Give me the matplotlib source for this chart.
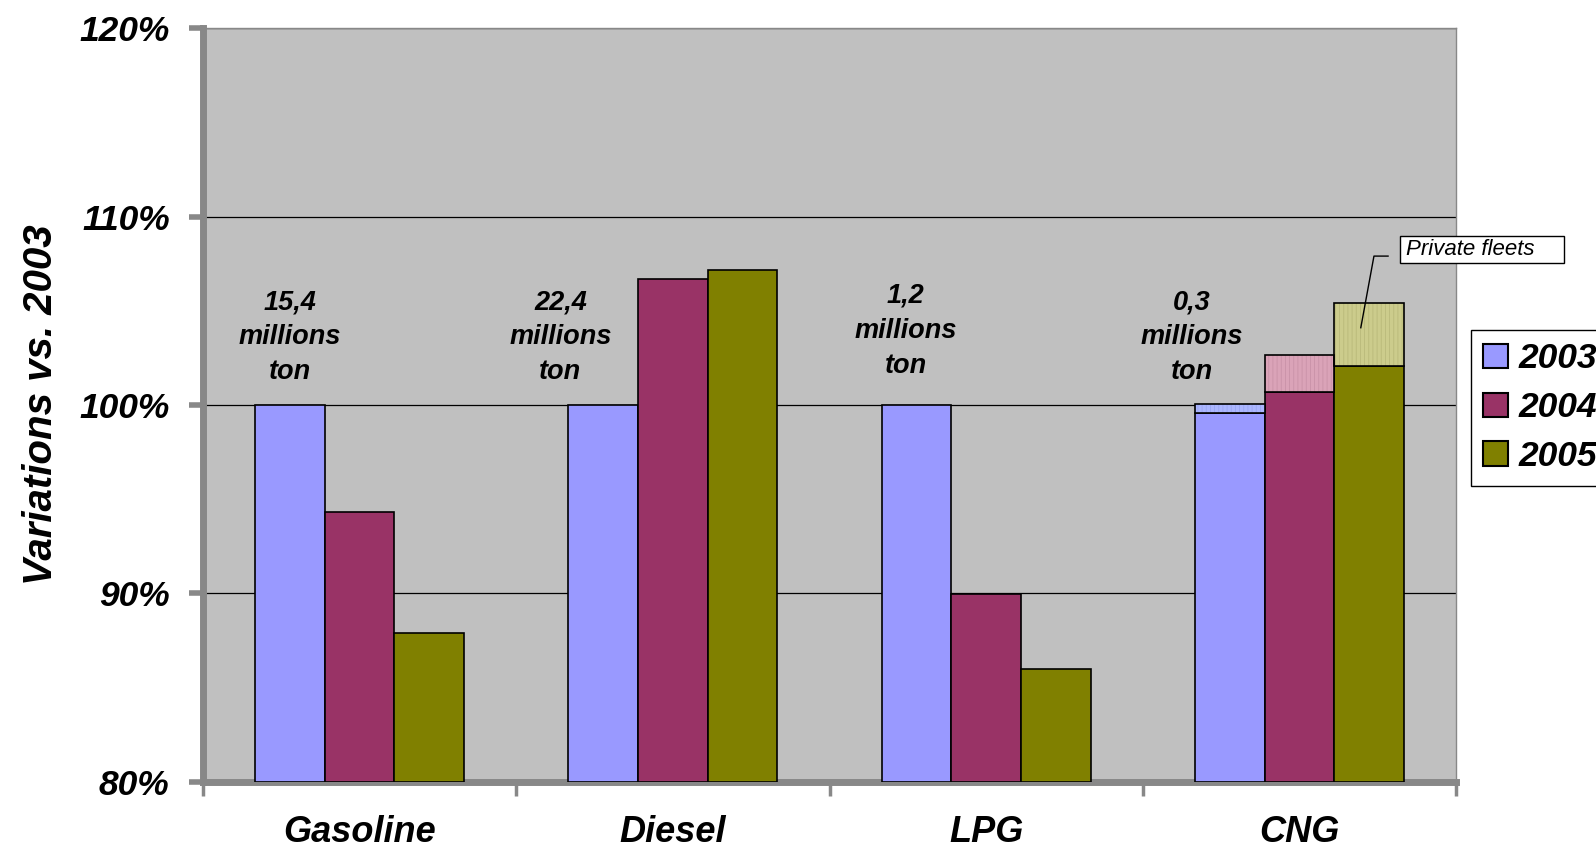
import numpy as np
import matplotlib
matplotlib.use('Agg')
import matplotlib.pyplot as plt
from matplotlib.patches import Rectangle, Patch
from matplotlib.lines import Line2D

# data (percent of 2003 level)
categories = ['Gasoline', 'Diesel', 'LPG', 'CNG']
years = ['2003', '2004', '2005']
v2003 = [100.0, 100.0, 100.0, 99.55]
v2004 = [94.3, 106.7, 89.95, 100.7]
v2005 = [87.9, 107.15, 86.0, 102.05]
# CNG private fleets share stacked on top
cng_fleet = [0.5, 1.95, 3.35]
volumes = ['15,4', '22,4', '1,2', '0,3']

colors = ['#9999FF', '#993366', '#808000']
fleet_face = ['#ABB6FF', '#DAA3B8', '#CCCC8C']
fleet_hatch = ['#9AA6F2', '#C992A8', '#B9B97A']

plt.rcParams['font.family'] = ['Liberation Sans', 'DejaVu Sans']
plt.rcParams['hatch.linewidth'] = 0.6

fig = plt.figure(figsize=(15.96, 8.52), dpi=100)
ax = fig.add_axes([0.1272, 0.0822, 0.7851, 0.8849])
ax.set_facecolor('#C0C0C0')

w = 2 / 9
x = np.arange(len(categories))
series = [v2003, v2004, v2005]
for j in range(3):
    ax.bar(x + (j - 1) * w, np.array(series[j]) - 80, bottom=80, width=w,
           color=colors[j], edgecolor='black', linewidth=1.2, zorder=3)

# private fleets on CNG
for j in range(3):
    xc = 3 + (j - 1) * w
    ax.bar(xc, cng_fleet[j], bottom=series[j][3], width=w, color=fleet_face[j],
           edgecolor=fleet_hatch[j], hatch='||||', linewidth=0, zorder=3)
    ax.bar(xc, cng_fleet[j], bottom=series[j][3], width=w, fill=False,
           edgecolor='black', linewidth=1.2, zorder=4)

ax.set_xlim(-0.5, 3.5)
ax.set_ylim(80, 120)

ax.set_yticks([80, 90, 100, 110, 120])
ax.set_yticklabels(['80%', '90%', '100%', '110%', '120%'])
ax.yaxis.grid(True, color='black', linewidth=0.9, zorder=1)
ax.set_axisbelow(True)

ax.set_xticks([-0.5, 0.5, 1.5, 2.5, 3.5])
ax.set_xticklabels([])
ax.set_xticks(x, minor=True)
ax.set_xticklabels(categories, minor=True)
ax.tick_params(axis='x', which='minor', length=0, pad=24, labelsize=26)
ax.tick_params(axis='x', which='major', length=10, width=2.5, color='#888888', direction='out')
ax.tick_params(axis='y', length=10, width=4, color='#888888', pad=14, labelsize=25.5)
for lab in ax.get_xticklabels(minor=True) + ax.get_yticklabels():
    lab.set_fontweight('bold')
    lab.set_fontstyle('italic')

for s in ['left', 'bottom']:
    ax.spines[s].set_color('#888888')
    ax.spines[s].set_linewidth(5)
for s in ['top', 'right']:
    ax.spines[s].set_color('#888888')
    ax.spines[s].set_linewidth(1)

ax.set_ylabel('Variations vs. 2003', fontsize=29, fontweight='bold', fontstyle='italic', labelpad=14)

# volume labels above groups
label_x = [-0.222, 0.641, 1.743, 2.657]
label_y = [103.6, 103.6, 103.95, 103.6]
for i in range(4):
    ax.text(label_x[i], label_y[i], volumes[i] + '\nmillions\nton', ha='center', va='center',
            fontsize=19.5, fontweight='bold', fontstyle='italic', linespacing=1.45, zorder=5)

# "Private fleets" callout
ax.add_patch(Rectangle((3.321, 107.55), 0.524, 1.42, facecolor='white', edgecolor='black',
                       linewidth=1, clip_on=False, zorder=6))
ax.text(3.341, 108.24, 'Private fleets', fontsize=16, fontstyle='italic', va='center',
        ha='left', clip_on=False, zorder=7)
ax.add_line(Line2D([3.283, 3.238, 3.196], [107.9, 107.9, 104.1], color='black',
                   linewidth=1, clip_on=False, zorder=7))

handles = [Patch(facecolor=colors[j], edgecolor='black', linewidth=1.5) for j in range(3)]
leg = fig.legend(handles, years, loc='upper left', bbox_to_anchor=(0.9217, 0.6127),
                 frameon=True, fancybox=False, edgecolor='black', framealpha=1,
                 handlelength=0.7, handleheight=0.7, handletextpad=0.3,
                 labelspacing=0.45, borderpad=0.35, borderaxespad=0,
                 prop={'family': 'Liberation Sans', 'weight': 'bold', 'style': 'italic', 'size': 25.5})
leg.get_frame().set_linewidth(1)

fig.savefig('out.png', dpi=100)
